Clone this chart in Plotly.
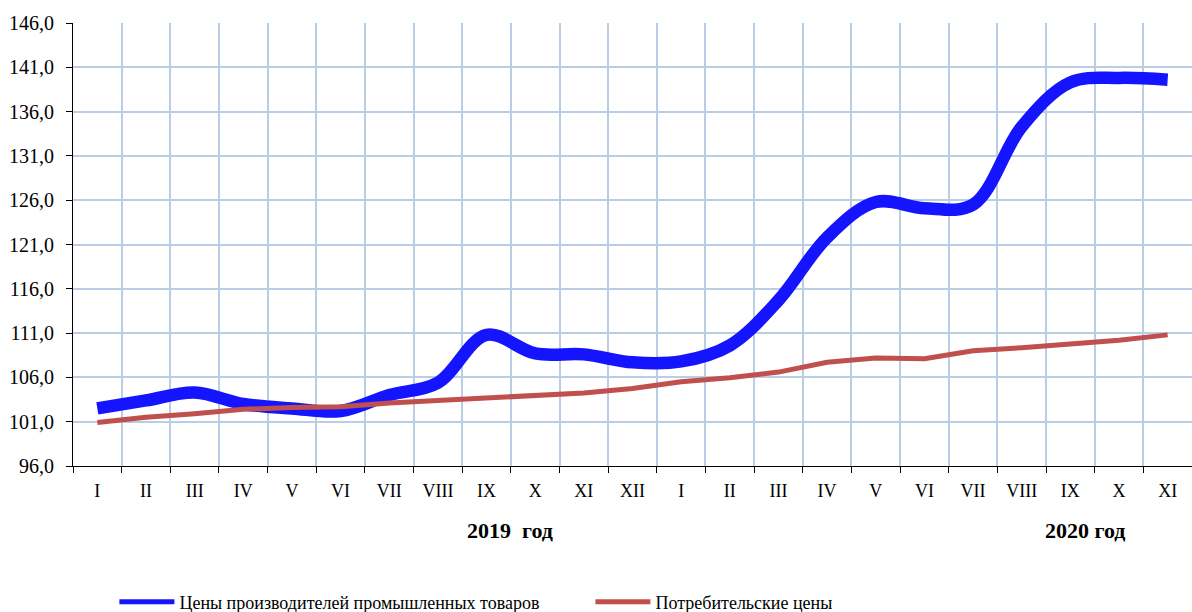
import plotly.graph_objects as go

months = ["I", "II", "III", "IV", "V", "VI", "VII", "VIII", "IX", "X", "XI", "XII",
          "I", "II", "III", "IV", "V", "VI", "VII", "VIII", "IX", "X", "XI"]
years = [2019] * 12 + [2020] * 11
categories = [f"{y}-{m}" for y, m in zip(years, months)]

producer_prices = [102.5, 103.4, 104.3, 103.0, 102.5, 102.2, 104.0, 105.4, 110.8, 108.7,
                   108.6, 107.7, 107.8, 109.6, 114.7, 121.8, 125.8, 125.1, 125.5, 134.3,
                   139.3, 139.8, 139.6]
consumer_prices = [100.9, 101.5, 101.9, 102.4, 102.6, 102.7, 103.1, 103.4, 103.7, 103.9,
                   104.25, 104.75, 105.5, 105.95, 106.6, 107.7, 108.2, 108.1, 109.0, 109.35,
                   109.75, 110.2, 110.8]

series_names = ["Цены производителей промышленных товаров", "Потребительские цены"]
year_labels = ["2019  год", "2020 год"]

SERIF = "Liberation Serif, Times New Roman, serif"
GRID = "#B9CDE5"
BLUE = "#1414FF"
RED = "#C0504D"

fig = go.Figure()
fig.add_trace(go.Scatter(
    x=categories, y=producer_prices, name=series_names[0], mode="lines",
    line=dict(color=BLUE, width=12.5, shape="spline", smoothing=1.0),
    showlegend=False, hoverinfo="skip"))
fig.add_trace(go.Scatter(
    x=categories, y=consumer_prices, name=series_names[1], mode="lines",
    line=dict(color=RED, width=5),
    showlegend=False, hoverinfo="skip"))
# legend entries (thinner sample lines, as in the original legend)
fig.add_trace(go.Scatter(x=[None], y=[None], name=series_names[0], mode="lines",
                         line=dict(color=BLUE, width=5)))
fig.add_trace(go.Scatter(x=[None], y=[None], name=series_names[1], mode="lines",
                         line=dict(color=RED, width=5)))

fig.update_layout(
    width=1192, height=612,
    margin=dict(l=73, r=0, t=23, b=146, autoexpand=False),
    paper_bgcolor="white", plot_bgcolor="white",
    separators=", ",
    showlegend=True,
    legend=dict(orientation="h", x=0.037, xanchor="left", y=-0.307, yanchor="middle",
                font=dict(family=SERIF, size=18, color="black"),
                itemwidth=55,
                entrywidth=406, entrywidthmode="pixels",
                bgcolor="rgba(0,0,0,0)"),
    font=dict(family=SERIF, color="black"),
)

fig.update_xaxes(
    type="category", categoryorder="array", categoryarray=categories,
    tickvals=categories, ticktext=months,
    tickson="boundaries", ticks="outside", ticklen=6, tickcolor="black",
    ticklabelstandoff=8,
    showgrid=True, gridcolor=GRID, gridwidth=1.5,
    showline=True, linecolor="black", linewidth=1,
    tickfont=dict(family=SERIF, size=18, color="black"),
    range=[-0.5, 22.5], zeroline=False, fixedrange=True, automargin=False,
)
fig.update_yaxes(
    range=[96, 146], dtick=5, tick0=96, tickformat=".1f",
    ticks="outside", ticklen=6, tickcolor="black",
    ticklabelstandoff=8,
    showgrid=True, gridcolor=GRID, gridwidth=1.5,
    showline=True, linecolor="black", linewidth=1,
    tickfont=dict(family=SERIF, size=20, color="black"),
    zeroline=False, fixedrange=True, automargin=False,
)

fig.add_annotation(text=f"<b>{year_labels[0]}</b>", xref="paper", yref="paper",
                   x=(510 - 73) / 1119, y=(466 - 530) / 443, xanchor="center", yanchor="middle",
                   showarrow=False, font=dict(family=SERIF, size=22, color="black"))
fig.add_annotation(text=f"<b>{year_labels[1]}</b>", xref="paper", yref="paper",
                   x=(1085 - 73) / 1119, y=(466 - 530) / 443, xanchor="center", yanchor="middle",
                   showarrow=False, font=dict(family=SERIF, size=22, color="black"))

fig.write_html("out.html", config={"displayModeBar": False},
               post_script="document.body.style.margin='0';document.body.style.overflow='hidden';")
